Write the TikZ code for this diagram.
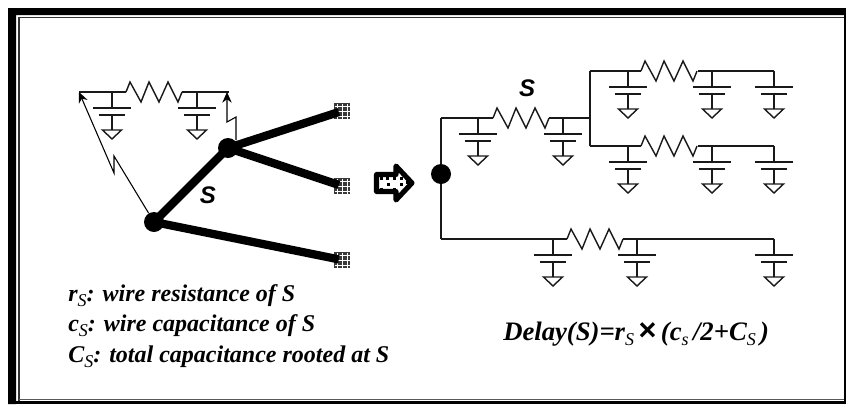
\documentclass[tikz,border=0pt]{standalone}
\usepackage{fontspec}
\setmainfont{Liberation Serif}
\newfontfamily\labelsans{Liberation Sans}
\usetikzlibrary{arrows.meta}
\newcommand{\subS}[1]{\raisebox{-0.22em}{\fontsize{13.5}{14}\selectfont\mdseries #1}}
\tikzset{
  px/.style={x=0.75pt,y=-0.75pt},
  ckt/.style={line width=1.05pt,black!90},
  wirethick/.style={line width=6.2pt,black},
  dotnode/.style={circle,fill=black,inner sep=0pt,minimum size=15pt},
  sink/.style={rectangle,fill=black!78,inner sep=0pt,minimum size=11.5pt},
  sinkgrid/.style={line width=0.3pt,white},
  callout/.style={line width=0.8pt,black},
  txt/.style={inner sep=0pt,anchor=base west,font=\fontsize{18}{20}\selectfont\bfseries\itshape},
  bigtxt/.style={inner sep=0pt,anchor=base west,font=\fontsize{20}{22}\selectfont\bfseries\itshape},
  slabel/.style={inner sep=0pt,font=\fontsize{18}{20}\selectfont\labelsans\bfseries\itshape},
  pics/capgnd/.style={code={
    \draw[ckt] (0,0) -- (0,16) (0,23) -- (0,38);
    \draw[ckt] (-19,16) -- (19,16) (-13,23) -- (13,23);
    \draw[ckt] (-9.5,38) -- (9.5,38) -- (0,47) -- cycle;
  }},
  pics/resist/.style={code={
    \draw[ckt] (0,0) -- (4,-10) -- (15,10) -- (23,-10) -- (33,10) -- (42,-10) -- (52,10) -- (56,0);
  }},
}
\begin{document}
\begin{tikzpicture}[px]
\useasboundingbox (0,0) rectangle (846,404);
\fill[white] (0,0) rectangle (846,404);
% frame
\fill[black] (8,404) -- (8,8) -- (846,8) -- (846,15) -- (16,15) -- (16,404) -- cycle;
\fill[black] (844,8) rectangle (846,404);
\fill[black] (8,401) rectangle (846,404);
\draw[line width=1.2pt,black!80] (18.8,401) -- (18.8,17.6) -- (844,17.6);
\draw[line width=1.1pt,black!65] (18.8,399.6) -- (844,399.6);

% left: tree
\node[sink] (t1) at (342,111) {};
\node[sink] (t2) at (342,186) {};
\node[sink] (t3) at (342,260) {};
\foreach \c in {111,186,260}{
  \foreach \d in {-5,0,5}{
    \draw[sinkgrid] (334.5,\c+\d) -- (349.5,\c+\d);
    \draw[sinkgrid] (342+\d,\c-7.5) -- (342+\d,\c+7.5);
  }
}
\node[dotnode] (root) at (154,222) {};
\node[dotnode] (mid) at (228,148) {};
\draw[wirethick] (root.center) -- (mid.center);
\draw[wirethick,shorten >=2.5pt] (mid.center) -- (t1.center);
\draw[wirethick,shorten >=2.5pt] (mid.center) -- (t2.center);
\draw[wirethick,shorten >=2.5pt] (root.center) -- (t3.center);
\node[slabel] (s1) at (208,195) {S};

% left: RC model
\coordinate (lw) at (79,92);
\coordinate (lr1) at (126,92);
\coordinate (lr2) at (182,92);
\coordinate (rw) at (229,92);
\draw[ckt] (lw) -- (lr1);
\draw[ckt] (lr2) -- (rw);
\pic at (lr1) {resist};
\pic at (112,92) {capgnd};
\pic at (197,92) {capgnd};
\coordinate (c1a) at (114,156);
\coordinate (c1b) at (114,173);
\coordinate (c2a) at (236,117);
\coordinate (c2b) at (227,122);
\draw[callout,-{Stealth[length=8pt,width=7pt]}] (root) -- (c1a) -- (c1b) -- (lw);
\draw[callout,-{Stealth[length=8pt,width=7pt]}] (236,140) -- (c2a) -- (c2b) -- (rw -| c2b);

% hollow arrow
\draw[line width=3.8pt,line join=round,fill=white] (376.5,174.5) -- (396,174.5) -- (396,166) -- (412,183) -- (396,200) -- (396,191.5) -- (376.5,191.5) -- cycle;
\foreach \x/\y in {380/177,387/183,393/177,400/183,386/177,393/188,380/188,400/177,406/181}{
  \fill[black] (\x,\y) rectangle ++(3.4,3.4);
}

% right circuit
\node[dotnode] (rroot) at (441,174) {};
\coordinate (tl) at (441,118);
\coordinate (bl) at (441,239);
\coordinate (tr1) at (493,118);
\coordinate (tr2) at (549,118);
\coordinate (bj) at (590,118);
\draw[ckt] (tl) -- (rroot) -- (bl);
\draw[ckt] (tl) -- (tr1);
\draw[ckt] (tr2) -- (bj);
\pic at (tr1) {resist};
\pic at (478,118) {capgnd};
\pic at (563,118) {capgnd};
\node[slabel] (s2) at (527,88) {S};

\coordinate (ua) at (590,71);
\coordinate (ub) at (590,146);
\draw[ckt] (ua) -- (ub);
% upper branch
\coordinate (u1) at (641,71);
\coordinate (u2) at (698,71);
\coordinate (ue) at (774,71);
\draw[ckt] (ua) -- (u1);
\draw[ckt] (u2) -- (ue);
\pic at (u1) {resist};
\pic at (628,71) {capgnd};
\pic at (712,71) {capgnd};
\pic at (ue) {capgnd};
% lower branch
\coordinate (v1) at (641,146);
\coordinate (v2) at (698,146);
\coordinate (ve) at (774,146);
\draw[ckt] (ub) -- (v1);
\draw[ckt] (v2) -- (ve);
\pic at (v1) {resist};
\pic at (628,146) {capgnd};
\pic at (712,146) {capgnd};
\pic at (ve) {capgnd};
% bottom branch
\coordinate (w1) at (567,239);
\coordinate (w2) at (623,239);
\coordinate (we) at (774,239);
\draw[ckt] (bl) -- (w1);
\draw[ckt] (w2) -- (we);
\pic at (w1) {resist};
\pic at (553,239) {capgnd};
\pic at (637,239) {capgnd};
\pic at (we) {capgnd};

% text
\node[txt] (t-r) at (68,301) {r\subS{S}: wire resistance of S};
\node[txt] (t-c) at (68,331) {c\subS{S}: wire capacitance of S};
\node[txt] (t-C) at (68,362) {C\subS{S}: total capacitance rooted at S};
\node[bigtxt] (t-d) at (503,340) {Delay(S)=r\subS{S}\,{\labelsans\upshape\fontsize{23}{24}\selectfont ×}\,(c\subS{s}\,/2+C\subS{S}\,)};
\end{tikzpicture}
\end{document}
